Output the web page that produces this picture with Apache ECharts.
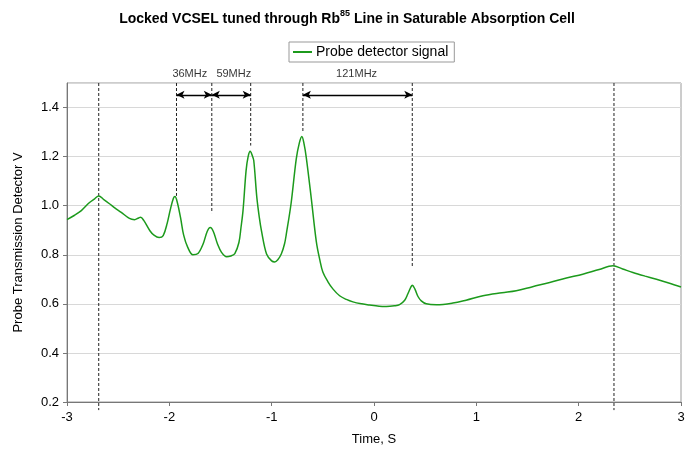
<!DOCTYPE html>
<html>
<head>
<meta charset="utf-8">
<script src="https://cdn.jsdelivr.net/npm/echarts@6/dist/echarts.min.js"></script>
<style>
html,body{margin:0;padding:0;background:#fff}
#main{width:694px;height:454px}
</style>
</head>
<body>
<div id="main"></div>
<script>
// probe signal (time in s, volts)
const timeS=[-3.00,-2.93,-2.86,-2.78,-2.73,-2.69,-2.64,-2.585,-2.53,-2.47,-2.39,-2.34,-2.30,-2.28,-2.25,-2.19,-2.15,-2.10,-2.06,-2.02,-1.99,-1.96,-1.945,-1.92,-1.89,-1.86,-1.82,-1.77,-1.72,-1.67,-1.63,-1.60,-1.57,-1.53,-1.49,-1.44,-1.40,-1.36,-1.32,-1.30,-1.28,-1.25,-1.23,-1.21,-1.19,-1.175,-1.145,-1.12,-1.10,-1.05,-1.00,-0.97,-0.94,-0.906,-0.874,-0.857,-0.81,-0.76,-0.73,-0.705,-0.685,-0.662,-0.613,-0.564,-0.53,-0.50,-0.45,-0.40,-0.336,-0.27,-0.206,-0.12,-0.043,0.05,0.12,0.20,0.25,0.30,0.33,0.36,0.374,0.40,0.43,0.462,0.51,0.61,0.77,0.90,1.065,1.25,1.39,1.55,1.717,1.88,2.04,2.20,2.335,2.43,2.53,2.65,2.76,2.88,3.00]
const probeV=[0.943,0.960,0.980,1.013,1.028,1.040,1.025,1.008,0.990,0.973,0.948,0.943,0.950,0.953,0.940,0.898,0.880,0.870,0.878,0.930,0.985,1.030,1.037,1.010,0.950,0.880,0.830,0.800,0.805,0.844,0.895,0.911,0.895,0.845,0.810,0.792,0.795,0.805,0.850,0.910,0.980,1.143,1.200,1.222,1.205,1.184,1.034,0.950,0.898,0.803,0.775,0.771,0.780,0.803,0.845,0.884,1.010,1.190,1.255,1.282,1.255,1.197,1.030,0.855,0.780,0.730,0.690,0.660,0.633,0.618,0.608,0.600,0.595,0.590,0.589,0.592,0.597,0.615,0.640,0.668,0.676,0.660,0.630,0.612,0.600,0.596,0.603,0.615,0.633,0.645,0.653,0.670,0.687,0.705,0.721,0.740,0.755,0.742,0.728,0.713,0.700,0.685,0.669]

// dashed marker lines: x position and where they stop
const markerX=[-2.69,-1.93,-1.585,-1.205,-0.695,0.374,2.345]
const markerEnd=[0.167,1.04,0.97,1.245,1.30,0.748,0.167]
const markerTop=1.5

// spacing arrows and their labels
const arrowFrom=[-1.93,-1.585,-0.695]
const arrowTo=[-1.585,-1.205,0.374]
const arrowY=1.452
const spanLabels=['36MHz','59MHz','121MHz']
const labelX=[-1.80,-1.37,-0.17]
const labelY=1.537

const yTicks=[0.2,0.4,0.6,0.8,1.0,1.2,1.4]
const xTicks=[-3,-2,-1,0,1,2,3]

const font='"Liberation Sans", Arial, sans-serif'
const chartDom=document.getElementById('main')
let myChart=echarts.init(chartDom)

let signal=timeS.map((t,i)=>[t,probeV[i]])
let markers=[]
markerX.forEach((x,i)=>{
    markers.push([x,markerTop])
    markers.push([x,markerEnd[i]])
    markers.push('-')
})
let arrows=arrowFrom.map((a,i)=>[
    {coord:[a,arrowY]},
    {coord:[arrowTo[i],arrowY]}
])
let spans=spanLabels.map((s,i)=>({name:s,value:[labelX[i],labelY]}))

let option={
    animation:false,
    title:{
        text:'Locked VCSEL tuned through Rb{sup|85} Line in Saturable Absorption Cell',
        left:'center',
        top:4,
        textStyle:{
            fontFamily:font,
            fontSize:14,
            fontWeight:'bold',
            color:'#000',
            rich:{
                sup:{fontFamily:font,fontSize:9,fontWeight:'bold',color:'#000',verticalAlign:'top',lineHeight:20}
            }
        }
    },
    legend:{
        data:['Probe detector signal'],
        left:289,
        top:42,
        padding:[3,6,3,4],
        borderColor:'#999',
        borderWidth:1,
        itemWidth:19,
        itemHeight:2,
        itemGap:5,
        icon:'rect',
        textStyle:{fontFamily:font,fontSize:14,color:'#000',padding:[0,0,0,-1]}
    },
    grid:{
        left:67,
        right:13,
        top:83,
        bottom:52,
        show:true,
        borderColor:'#9a9a9a',
        borderWidth:1
    },
    xAxis:{
        type:'value',
        min:-3,
        max:3,
        interval:1,
        name:'Time, S',
        nameLocation:'middle',
        nameGap:31,
        nameTextStyle:{fontFamily:font,fontSize:13,color:'#000'},
        axisLine:{onZero:false,lineStyle:{color:'#777'}},
        axisTick:{show:true,length:4,lineStyle:{color:'#777'}},
        axisLabel:{fontFamily:font,fontSize:13,color:'#000',margin:9,
            formatter:v=>xTicks.includes(v)?String(v):''},
        splitLine:{show:false}
    },
    yAxis:{
        type:'value',
        min:0.2,
        max:1.5,
        interval:0.2,
        name:'Probe Transmission Detector V',
        nameLocation:'middle',
        nameGap:42,
        nameTextStyle:{fontFamily:font,fontSize:13,color:'#000'},
        axisLine:{show:true,onZero:false,lineStyle:{color:'#777'}},
        axisTick:{show:true,length:4,lineStyle:{color:'#777'}},
        axisLabel:{fontFamily:font,fontSize:13,color:'#000',margin:8,showMaxLabel:false,
            formatter:v=>{
                let t=yTicks.find(k=>Math.abs(k-v)<1e-6)
                return t===undefined?'':t.toFixed(1)
            }},
        splitLine:{show:true,lineStyle:{color:'#d8d8d8'}}
    },
    series:[
        {
            name:'Probe detector signal',
            type:'line',
            data:signal,
            showSymbol:false,
            symbol:'none',
            smooth:0.35,
            itemStyle:{color:'#1c9a1c'},
            lineStyle:{color:'#1c9a1c',width:1.5},
            z:3
        },
        {
            name:'markers',
            type:'line',
            data:markers,
            clip:false,
            symbol:'none',
            connectNulls:false,
            lineStyle:{color:'#222',width:1,type:[3,2]},
            z:2
        },
        {
            name:'arrows',
            type:'line',
            data:[],
            clip:false,
            markLine:{
                silent:true,
                symbol:['arrow','arrow'],
                symbolSize:[6,8],
                label:{show:false},
                lineStyle:{color:'#000',width:1.3,type:'solid'},
                data:arrows
            }
        },
        {
            name:'spans',
            type:'scatter',
            data:spans,
            clip:false,
            symbolSize:0,
            label:{
                show:true,
                position:'inside',
                formatter:'{b}',
                fontFamily:font,
                fontSize:11,
                color:'#000'
            }
        }
    ]
}

option && myChart.setOption(option);
</script>
</body>
</html>
